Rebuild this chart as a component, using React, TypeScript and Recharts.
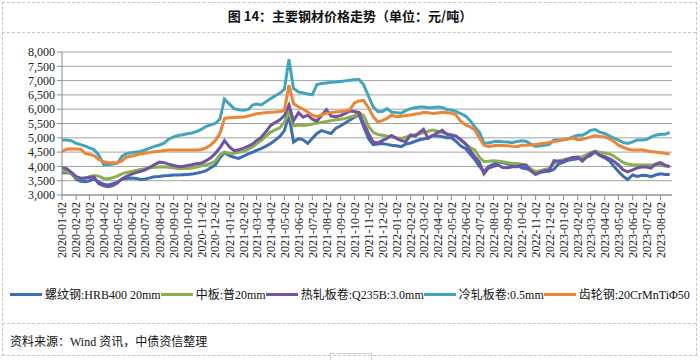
import { LineChart, Line, XAxis, YAxis, CartesianGrid } from 'recharts'

const TITLE = '图 14：主要钢材价格走势（单位：元/吨）'
const SOURCE = '资料来源：Wind 资讯，中债资信整理'

// months shown on the axis, 2020-01 .. 2023-08
const MONTHS: string[] = []
for (let y = 2020; y <= 2023; y++) {
  for (let m = 1; m <= 12; m++) {
    if (y === 2023 && m > 8) break
    MONTHS.push(`${y}-${String(m).padStart(2, '0')}`)
  }
}
// prices read on the 2nd, 12th and 22nd of each month
const SAMPLE_DAYS = ['02', '12', '22']
const DATES = MONTHS.flatMap(m => SAMPLE_DAYS.map(d => `${m}-${d}`))
const TICK_LABELS = MONTHS.map(m => `${m}-02`)
const AXIS_END = '2023-08-27'

const Y_TICKS = [3000, 3500, 4000, 4500, 5000, 5500, 6000, 6500, 7000, 7500, 8000]

// 螺纹钢:HRB400 20mm
const rebar = [
  3780, 3780, 3760, 3550, 3480, 3460, 3500, 3560, 3450, 3380, 3350, 3400,
  3450, 3560, 3580, 3590, 3580, 3540, 3560, 3600, 3640, 3650, 3670, 3680,
  3700, 3700, 3710, 3720, 3730, 3760, 3800, 3850, 3950, 4050, 4300, 4480,
  4380, 4320, 4280, 4360, 4440, 4500, 4560, 4620, 4700, 4800, 4920, 5050,
  5250, 5790, 4850, 4970, 4930, 4800, 4980, 5150, 5250, 5200, 5150, 5330,
  5420, 5520, 5620, 5720, 5820, 5400, 4970, 4760, 4780, 4800, 4770, 4740,
  4720, 4690, 4780, 4820, 4880, 4930, 4960, 5000, 5080, 5060, 5040, 5000,
  5000, 4880, 4720, 4620, 4420, 4240, 4000, 3820, 3990, 4080, 4160, 4130,
  4080, 4060, 4050, 3950, 3920, 3860, 3760, 3790, 3820, 3830, 3900, 4080,
  4150, 4210, 4240, 4270, 4300, 4330, 4380, 4500, 4380, 4300, 4200, 4000,
  3820, 3660, 3540, 3700, 3650, 3690, 3680, 3640, 3700, 3740, 3720, 3720,
]
// 中板:普20mm
const plate = [
  3840, 3820, 3740, 3600, 3580, 3600, 3640, 3680, 3660, 3580, 3570, 3600,
  3660, 3740, 3790, 3820, 3860, 3890, 3920, 3950, 3970, 3980, 3990, 3970,
  3950, 3930, 3930, 3930, 3940, 3980, 4020, 4060, 4100, 4180, 4400, 4500,
  4450, 4460, 4490, 4520, 4600, 4690, 4790, 4900, 5050, 5200, 5280, 5350,
  5550, 5900, 5420, 5450, 5430, 5450, 5480, 5510, 5540, 5570, 5600, 5630,
  5650, 5680, 5720, 5770, 5880, 5780, 5400, 5190, 5120, 5090, 5060, 5030,
  5000, 4980, 5020, 5080, 5110, 5140, 5180, 5230, 5270, 5230, 5180, 5140,
  5110, 5060, 4930, 4780, 4660, 4580, 4320, 4170, 4180, 4200, 4180, 4160,
  4130, 4100, 4100, 4080, 4050, 3920, 3820, 3850, 3890, 3930, 4100, 4190,
  4230, 4270, 4300, 4320, 4340, 4410, 4480, 4530, 4500, 4470, 4440, 4360,
  4250, 4140, 4080, 4060, 4050, 4050, 4050, 4050, 4050, 4040, 4010, 3990,
]
// 热轧板卷:Q235B:3.0mm
const hotRolled = [
  3950, 3920, 3800, 3640, 3590, 3590, 3620, 3630, 3400, 3320, 3290, 3330,
  3420, 3560, 3650, 3730, 3780, 3830, 3880, 3970, 4060, 4150, 4130, 4080,
  4030, 4000, 4000, 4030, 4060, 4090, 4120, 4200, 4300, 4450, 4650, 4900,
  4680, 4550, 4580, 4640, 4710, 4790, 4900, 5010, 5200, 5430, 5530, 5630,
  5780, 6140, 5600, 5880, 5720, 5790, 5650, 5580, 5780, 5980, 5760, 5740,
  5780, 5850, 5940, 5920, 5880, 5500, 5150, 4850, 4820, 4900, 4980, 5080,
  4980, 4900, 4870, 5100, 5060, 5200, 5300, 4980, 5080, 5180, 5260, 5120,
  5090, 5060, 4940, 4790, 4560, 4340, 4150, 3740, 3940, 4000, 4050, 3960,
  3950, 3990, 3990, 4050, 4040, 3850, 3720, 3800, 3850, 3870, 4200, 4180,
  4190, 4260, 4310, 4330, 4180, 4330, 4440, 4520, 4400, 4340, 4270, 4180,
  4050, 3880, 3810, 3880, 3950, 3980, 3980, 3940, 4080, 4130, 4040, 3990,
]
// 冷轧板卷:0.5mm
const coldRolled = [
  4920, 4920, 4900, 4810, 4760, 4710, 4650, 4590, 4400, 4070, 4070, 4080,
  4110, 4350, 4450, 4480, 4500, 4520, 4580, 4640, 4700, 4750, 4810, 4950,
  5030, 5080, 5110, 5140, 5170, 5220, 5300, 5400, 5450, 5500, 5650, 6350,
  6180, 6020, 5980, 5960, 5990, 6150, 6180, 6150, 6250, 6370, 6470, 6560,
  6700, 7750, 6720, 6600, 6570, 6530, 6500, 6860, 6900, 6920, 6940, 6950,
  6970, 6990, 7010, 7030, 7040, 6860, 6450, 6080, 5920, 5920, 6020, 5900,
  5880, 5860, 5950, 6020, 6050, 6080, 6080, 6050, 6060, 6080, 6060, 5990,
  5970, 5920, 5850, 5760, 5600, 5380, 5200, 4830, 4820, 4860, 4880, 4860,
  4850, 4830, 4870, 4900, 4880, 4780, 4700, 4720, 4740, 4770, 4920, 4920,
  4930, 4960, 5030, 5090, 5090, 5170, 5260, 5290, 5200, 5150, 5070, 4990,
  4920, 4840, 4800, 4860, 4920, 4920, 4940, 5020, 5090, 5120, 5120, 5190,
]
// 齿轮钢:20CrMnTiΦ50
const gear = [
  4520, 4600, 4610, 4610, 4600, 4450, 4420, 4380, 4250, 4160, 4140, 4130,
  4130, 4190, 4330, 4360, 4400, 4440, 4460, 4490, 4510, 4530, 4560, 4570,
  4570, 4570, 4570, 4570, 4570, 4570, 4590, 4650, 4750, 4900, 5150, 5680,
  5700, 5710, 5720, 5730, 5760, 5800, 5840, 5860, 5880, 5890, 5900, 5920,
  5950, 6840, 6200, 6080, 6000, 5900, 5790, 5740, 5800, 5860, 5880, 5900,
  5920, 5940, 5980, 6220, 6290, 6310, 6050, 5740, 5560, 5600, 5680, 5790,
  5740, 5750, 5780, 5800, 5830, 5850, 5890, 5880, 5850, 5870, 5890, 5880,
  5860, 5800, 5580, 5450, 5380, 5280, 5000, 4740, 4700, 4720, 4740, 4730,
  4720, 4700, 4690, 4740, 4740, 4750, 4770, 4790, 4810, 4840, 4870, 4900,
  4930, 4970, 4990, 4930, 4950, 4990, 5030, 5070, 5050, 5030, 4960, 4870,
  4740, 4670, 4610, 4570, 4570, 4580, 4550, 4520, 4500, 4480, 4460, 4430,
]

const SERIES = [
  { key: 'rebar', name: '螺纹钢:HRB400 20mm', color: '#3d6db3', values: rebar },
  { key: 'plate', name: '中板:普20mm', color: '#8aaf4b', values: plate },
  { key: 'hotRolled', name: '热轧板卷:Q235B:3.0mm', color: '#7053a1', values: hotRolled },
  { key: 'coldRolled', name: '冷轧板卷:0.5mm', color: '#42a5bf', values: coldRolled },
  { key: 'gear', name: '齿轮钢:20CrMnTiΦ50', color: '#ec8535', values: gear },
]

const dayIndex = (s: string) => {
  const [y, m, d] = s.split('-').map(Number)
  return (Date.UTC(y, m - 1, d) - Date.UTC(2020, 0, 2)) / 86400000
}

const data = DATES.map((d, i) => {
  const row: Record<string, number | string> = { date: d, t: dayIndex(d) }
  SERIES.forEach(s => { row[s.key] = s.values[i] })
  return row
})

const xTicks = TICK_LABELS.map(dayIndex)
const labelByDay: Record<number, string> = {}
TICK_LABELS.forEach(l => { labelByDay[dayIndex(l)] = l })

const SERIF = '"Liberation Serif", "Times New Roman", "Noto Sans CJK SC", serif'

function DateTick({ x, y, payload }: any) {
  return (
    <text
      x={x}
      y={y}
      dy="0.35em"
      transform={`rotate(-90, ${x}, ${y})`}
      textAnchor="end"
      fontSize={12}
      fontFamily={SERIF}
      fill="#222"
    >
      {labelByDay[payload.value]}
    </text>
  )
}

const dashed = '1px dashed #c4c4c4'

export default function App() {
  return (
    <div
      style={{
        position: 'absolute',
        left: 0,
        top: 0,
        width: 700,
        height: 360,
        background: '#fff',
        overflow: 'hidden',
      }}
    >
      {/* frame */}
      <div style={{ position: 'absolute', left: 2, top: 2, width: 693, height: 352, border: dashed }} />
      <div style={{ position: 'absolute', left: 2, top: 32, width: 694, borderTop: dashed }} />
      <div style={{ position: 'absolute', left: 2, top: 323, width: 694, borderTop: dashed }} />
      <div style={{ position: 'absolute', left: 330, top: 353, width: 40, height: 10, border: '1px solid #d4d4d4' }} />

      <div
        style={{
          position: 'absolute',
          left: 0,
          top: 6,
          width: 700,
          textAlign: 'center',
          fontFamily: '"Noto Sans CJK SC", sans-serif',
          fontWeight: 700,
          fontSize: 13,
          color: '#111',
        }}
      >
        {TITLE}
      </div>

      <div style={{ position: 'absolute', left: 0, top: 0 }}>
        <LineChart
          width={700}
          height={270}
          data={data}
          margin={{ top: 52, right: 28, bottom: 9, left: 0 }}
        >
          <CartesianGrid vertical={false} stroke="#a3a3a3" strokeWidth={1} />
          <XAxis
            dataKey="t"
            type="number"
            domain={[0, dayIndex(AXIS_END)]}
            ticks={xTicks}
            interval={0}
            height={66}
            tick={<DateTick />}
            tickSize={5}
            tickMargin={2}
            stroke="#8c8c8c"
            allowDataOverflow
          />
          <YAxis
            type="number"
            domain={[3000, 8000]}
            ticks={Y_TICKS}
            interval={0}
            width={62}
            tickSize={5}
            tickMargin={2}
            stroke="#8c8c8c"
            tick={{ fontSize: 12, fontFamily: SERIF, fill: '#222' }}
            tickFormatter={(v: number) => v.toLocaleString('en-US')}
          />
          {SERIES.map(s => (
            <Line
              key={s.key}
              type="linear"
              dataKey={s.key}
              name={s.name}
              stroke={s.color}
              strokeWidth={3}
              dot={false}
              isAnimationActive={false}
            />
          ))}
        </LineChart>
      </div>

      {/* legend */}
      <div
        style={{
          position: 'absolute',
          left: 10,
          top: 285,
          display: 'flex',
          alignItems: 'center',
          fontFamily: SERIF,
          fontSize: 12,
          color: '#111',
          whiteSpace: 'nowrap',
        }}
      >
        {SERIES.map(s => (
          <div key={s.key} style={{ display: 'flex', alignItems: 'center' }}>
            <span style={{ display: 'inline-block', width: 32, height: 3, background: s.color, marginRight: 3 }} />
            <span>{s.name}</span>
          </div>
        ))}
      </div>

      <div
        style={{
          position: 'absolute',
          left: 10,
          top: 332,
          fontFamily: SERIF,
          fontSize: 12,
          color: '#111',
          whiteSpace: 'nowrap',
        }}
      >
        {SOURCE}
      </div>
    </div>
  )
}
